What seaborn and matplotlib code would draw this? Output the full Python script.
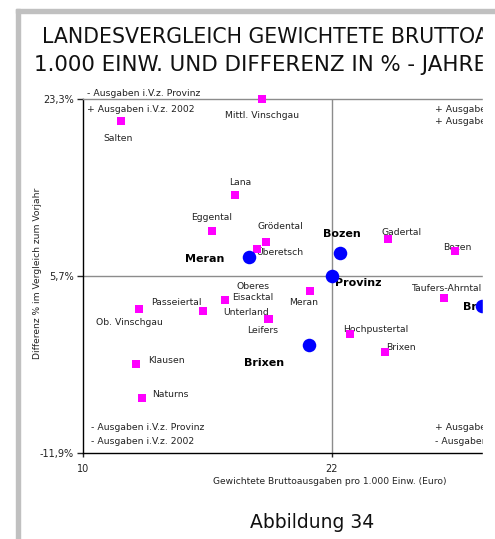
import matplotlib
matplotlib.use("Agg")
import matplotlib.pyplot as plt
import pandas as pd
import seaborn as sns
from matplotlib.patches import Rectangle

# ---- data ------------------------------------------------------------------
district_names = ["Mittl. Vinschgau", "Salten", "Lana", "Eggental", "Grödental",
                  "Überetsch", "Gadertal", "Bozen", "Taufers-Ahrntal", "Meran",
                  "Oberes\nEisacktal", "Passeiertal", "Ob. Vinschgau", "Unterland",
                  "Leifers", "Klausen", "Naturns", "Hochpustertal", "Brixen"]
district_x = [18.63, 11.83, 17.33, 16.22, 18.82, 18.39, 24.70, 27.93, 27.40, 20.94,
              16.84, 15.78, 12.70, 18.92, 18.95, 12.55, 12.84, 22.87, 24.55]
district_y = [23.3, 21.11, 13.75, 10.17, 9.08, 8.38, 9.38, 8.19, 3.51, 4.21,
              3.31, 2.22, 2.42, 1.42, 1.40, -3.05, -6.43, -0.07, -1.86]

city_names = ["Meran", "Bozen", "Provinz", "Brixen", "Bruneck"]
city_x = [18.00, 22.39, 22.00, 20.89, 29.23]
city_y = [7.59, 7.99, 5.70, -1.16, 2.72]

x_ticks = [10, 22, 34]
x_ticklabels = ["10", "22", "34"]
y_ticks = [-11.9, 5.7, 23.3]
y_ticklabels = ["-11,9%", "5,7%", "23,3%"]

title_lines = ["LANDESVERGLEICH GEWICHTETE BRUTTOAUSGABEN PRO",
               "1.000 EINW. UND DIFFERENZ IN % - JAHRE 2003"]
x_label = "Gewichtete Bruttoausgaben pro 1.000 Einw. (Euro)"
y_label = "Differenz % im Vergleich zum Vorjahr"
caption = "Abbildung 34"

# label offsets in pixels (dx right, dy down) and alignment
district_offsets = {
    "Mittl. Vinschgau": (0, 17, "center"), "Salten": (-3, 17, "center"),
    "Lana": (5, -13, "center"), "Eggental": (0, -14, "center"),
    "Grödental": (14, -16, "center"), "Überetsch": (-1, 3, "left"),
    "Gadertal": (-7, -6, "left"), "Bozen": (-12, -3, "left"),
    "Taufers-Ahrntal": (-33, -10, "left"), "Meran": (-6, 12, "center"),
    "Oberes\nEisacktal": (28, -8, "center"), "Passeiertal": (-27, -8, "center"),
    "Ob. Vinschgau": (-10, 14, "center"), "Unterland": (-22, -7, "center"),
    "Leifers": (-6, 11, "center"), "Klausen": (12, -3, "left"),
    "Naturns": (10, -3, "left"), "Hochpustertal": (-7, -5, "left"),
    "Brixen": (1, -5, "left"),
}
city_offsets = {
    "Meran": (-44, 2, "center"), "Bozen": (2, -19, "center"),
    "Provinz": (3, 7, "left"), "Brixen": (-45, 18, "center"),
    "Bruneck": (-19, 1, "left"),
}

MAGENTA = "#ff00ff"
BLUE = "#0000ff"
TXT = "#222222"
GRID = "#8c8c8c"

sns.set_style("white")
plt.rcParams["font.family"] = ["DejaVu Sans"]

W, H = 495, 539
CROP = 483  # the reference chart is cut off at this x, white strip beyond
fig = plt.figure(figsize=(W / 100, H / 100), dpi=100)

# grey frame (left + top edge of the original chart box)
fig.patches.append(Rectangle((16 / W, 0), 4 / W, (H - 9) / H,
                             transform=fig.transFigure, color="#c0c0c0", zorder=0))
fig.patches.append(Rectangle((16 / W, 1 - 13 / H), (W - 16) / W, 4 / H,
                             transform=fig.transFigure, color="#c0c0c0", zorder=20))
# white strip hiding everything right of the crop line
fig.patches.append(Rectangle((CROP / W, 0), (W - CROP) / W, 1 - 13 / H,
                             transform=fig.transFigure, color="white", zorder=19))

# axes run past the right edge, as the reference is cropped there
ax = fig.add_axes([83 / W, 86 / H, 498 / W, 354 / H])

districts = pd.DataFrame({"name": district_names, "x": district_x, "y": district_y})
cities = pd.DataFrame({"name": city_names, "x": city_x, "y": city_y})

sns.scatterplot(data=districts, x="x", y="y", marker="s", s=30, color=MAGENTA,
                linewidth=0, ax=ax, zorder=5, clip_on=False, legend=False)
sns.scatterplot(data=cities, x="x", y="y", marker="o", s=95, color=BLUE,
                linewidth=0, ax=ax, zorder=6, clip_on=False, legend=False)

ax.set_xlim(10, 34)
ax.set_ylim(-11.9, 23.3)
ax.axhline(5.7, color=GRID, lw=1, zorder=1)
ax.axvline(22, color=GRID, lw=1, zorder=1)

for sp in ["left", "bottom"]:
    ax.spines[sp].set_color("black"); ax.spines[sp].set_linewidth(1)
for sp in ["top", "right"]:
    ax.spines[sp].set_color(GRID); ax.spines[sp].set_linewidth(1)

ax.set_xticks(x_ticks, x_ticklabels)
ax.set_yticks(y_ticks, y_ticklabels)
ax.tick_params(axis="y", direction="out", length=4, width=1, pad=2.5,
               labelsize=7, labelcolor=TXT, left=True)
ax.tick_params(axis="x", direction="out", length=3, width=1, pad=5,
               labelsize=7, labelcolor=TXT, bottom=True)

ax.set_xlabel(x_label, fontsize=6.6, color=TXT)
ax.xaxis.set_label_coords((330 - 83) / 498, -(477 - 453) / 354)
ax.set_ylabel(y_label, fontsize=6.6, color=TXT)
ax.yaxis.set_label_coords((42 - 83) / 498, (453 - 273) / 354)

# point labels
for _, r in districts.iterrows():
    dx, dy, ha = district_offsets[r["name"]]
    ax.annotate(r["name"], (r["x"], r["y"]), xytext=(dx, -dy), textcoords="offset pixels",
                ha=ha, va="center", fontsize=6.7, color=TXT, zorder=3,
                multialignment="center", linespacing=1.25)
for _, r in cities.iterrows():
    dx, dy, ha = city_offsets[r["name"]]
    ax.annotate(r["name"], (r["x"], r["y"]), xytext=(dx, -dy), textcoords="offset pixels",
                ha=ha, va="center", fontsize=8, fontweight="bold", color="black", zorder=3)

# quadrant notes
quad_kw = dict(textcoords="offset pixels", ha="left", va="center",
               fontsize=6.7, color=TXT, annotation_clip=False)
ax.annotate("- Ausgaben i.V.z. Provinz", (10, 23.3), xytext=(4, 6), **quad_kw)
ax.annotate("+ Ausgaben i.V.z. 2002", (10, 23.3), xytext=(4, -10), **quad_kw)
ax.annotate("+ Ausgaben i.V.z. Provinz", (22, 23.3), xytext=(103, -10), **quad_kw)
ax.annotate("+ Ausgaben i.V.z. 2002", (22, 23.3), xytext=(103, -23), **quad_kw)
ax.annotate("- Ausgaben i.V.z. Provinz", (10, -11.9), xytext=(8, 26), **quad_kw)
ax.annotate("- Ausgaben i.V.z. 2002", (10, -11.9), xytext=(8, 12), **quad_kw)
ax.annotate("+ Ausgaben i.V.z. Provinz", (22, -11.9), xytext=(103, 26), **quad_kw)
ax.annotate("- Ausgaben i.V.z. 2002", (22, -11.9), xytext=(103, 12), **quad_kw)

# title and caption
fig.text(42 / W, 1 - 43 / H, title_lines[0], fontsize=14.8, color="#111111",
         ha="left", va="baseline")
fig.text(34 / W, 1 - 71 / H, title_lines[1], fontsize=15.4, color="#111111",
         ha="left", va="baseline")
fig.text(312 / W, 1 - 523 / H, caption, fontsize=13.5, color="#111111",
         ha="center", va="center")

fig.savefig("out.png", dpi=100)
